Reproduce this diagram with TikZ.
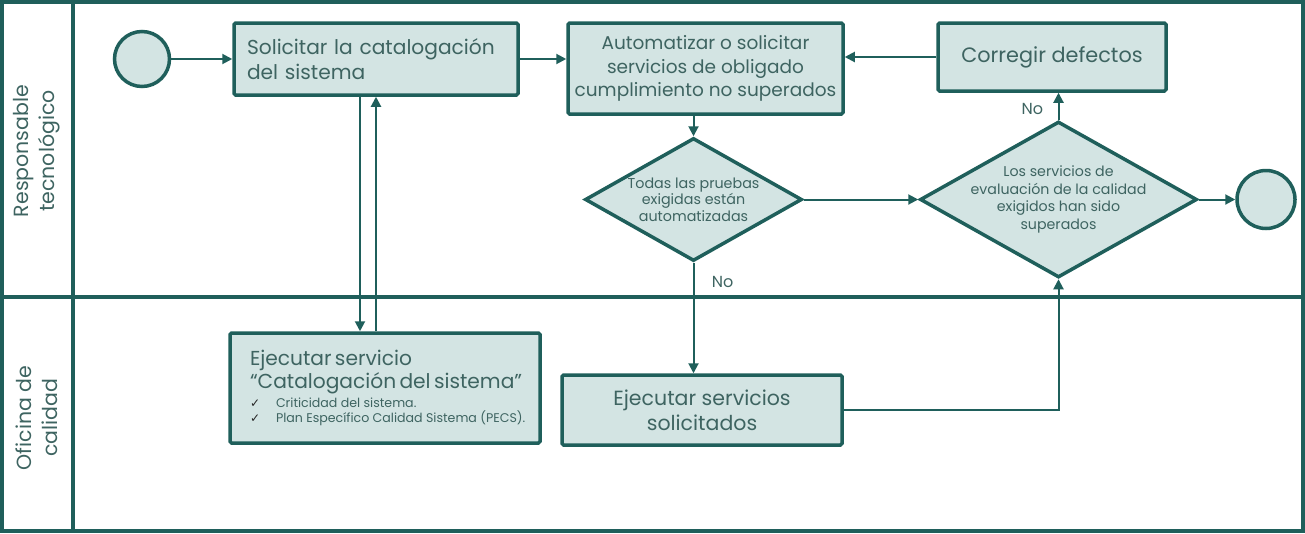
\documentclass[tikz,border=0pt]{standalone}
\usepackage{fontspec}
\setmainfont{Poppins}
\newfontfamily\checkfont{DejaVu Sans}
\usetikzlibrary{shapes,arrows.meta,positioning}
\definecolor{lane}{HTML}{1F5F5B}
\definecolor{taskfill}{HTML}{D3E4E3}
\definecolor{labeltext}{HTML}{3E6461}
\newcommand{\chk}{\makebox[26pt][l]{\checkfont\fontsize{12}{12}\selectfont\color{black!85}✓}}

\begin{document}
\begin{tikzpicture}[x=1pt, y=1pt, >={Triangle[length=10pt,width=10pt]}, on grid,
	task/.style={rectangle, draw=lane, fill=taskfill, line width=3.5pt, rounded corners=1.5pt, text=labeltext},
	event/.style={circle, draw=lane, fill=taskfill, line width=3.5pt, minimum size=55pt, inner sep=0pt},
	decision/.style={diamond, draw=lane, fill=taskfill, line width=3.5pt, text=labeltext, align=center, inner sep=0pt},
	flow/.style={->, draw=lane, line width=2pt},
	swim/.style={draw=lane, line width=4pt},
	lanelabel/.style={rotate=90, align=center, text=labeltext, font=\fontsize{20.5}{26}\selectfont}]
			\useasboundingbox (0,0) rectangle (1305,-533);
			
			% lanes
			\draw[swim] (2,-2) rectangle (1303,-531);
			\draw[swim] (73,-2) -- (73,-531);
			\draw[swim] (2,-297) -- (1303,-297);
			\node[lanelabel] (L1) at (37,-151) {Responsable\\tecnológico};
			\node[lanelabel] (L2) at (37,-418) {Oficina de\\calidad};
			
			\node[event] (start) at (142,-59) {};
			\node[task, align=left, text width=258pt, inner xsep=13pt, minimum width=284pt, minimum height=72pt, font=\fontsize{20.2}{25}\selectfont] (solic) [right = 234pt of start] {Solicitar la catalogación\\del sistema};
			\node[task, align=center, minimum width=275pt, minimum height=91pt, inner xsep=0pt, font=\fontsize{18.5}{23.5}\selectfont] (autom) [below right = 9.5pt and 329.5pt of solic] {Automatizar o solicitar\\servicios de obligado\\cumplimiento no superados};
			\node[task, align=center, minimum width=228pt, minimum height=68pt, font=\fontsize{20.8}{25}\selectfont] (correg) [above right = 11.5pt and 346.5pt of autom] {Corregir defectos};
			\node[decision, minimum width=217pt, minimum height=123pt, inner xsep=-20pt, inner ysep=-10pt, font=\fontsize{14.3}{16.5}\selectfont] (D1) [below left = 131pt and 12pt of autom] {Todas las pruebas\\exigidas están\\automatizadas};
			\node[decision, minimum width=277pt, minimum height=156pt, inner xsep=-30pt, inner ysep=-14pt, font=\fontsize{14.2}{17.5}\selectfont] (D2) [right = 365pt of D1] {Los servicios de\\evaluación de la calidad\\exigidos han sido\\superados};
			\node[event, minimum size=58pt] (end) [right = 207.5pt of D2] {};
			\node[task, align=left, text width=280pt, inner xsep=15pt, minimum width=310pt, minimum height=110pt] (ejec1) [below right = 329pt and 9pt of solic] {{\fontsize{20.2}{24}\selectfont \hspace*{5pt}Ejecutar servicio\\\hspace*{5pt}“Catalogación del sistema”}\\[3pt]
				{\fontsize{12.6}{15}\selectfont \hspace*{5pt}\chk Criticidad del sistema.\\[3pt]\hspace*{5pt}\chk \mbox{Plan Específico Calidad Sistema (PECS).}}};
			\node[task, align=center, minimum width=280pt, minimum height=70pt, font=\fontsize{20.5}{25}\selectfont] (ejec2) [below right = 210.5pt and 8.5pt of D1] {Ejecutar servicios\\solicitados};
			
			
			
			\tikzset{every node/.style={text=labeltext, font=\fontsize{16}{18}\selectfont}}
			\path[flow] (start) -- (solic);
			\path[flow] (solic.east) -- (solic.east -| autom.west);
			\path[flow] (correg.west) -- (correg.west -| autom.east);
			\path[flow] (D1.north |- autom.south) -- (D1.north);
			\path[flow] (D1) -- (D2);
			\path[flow] (D2) -- (end);
			\path[flow] (D2.north) -- node[pos=0.4, left=11pt] {No} (D2.north |- correg.south);
			\path[flow] (D1.south) -- node[pos=0.17, right=14pt] {No} (D1.south |- ejec2.north);
			\path[flow] ([xshift=-16pt]solic.south) -- ([xshift=-16pt]solic.south |- ejec1.north);
			\path[flow] (solic.south |- ejec1.north) -- (solic.south);
			\path[flow] (ejec2.east) -- (ejec2.east -| D2.south) -- (D2.south);
			\end{tikzpicture}
\end{document}
